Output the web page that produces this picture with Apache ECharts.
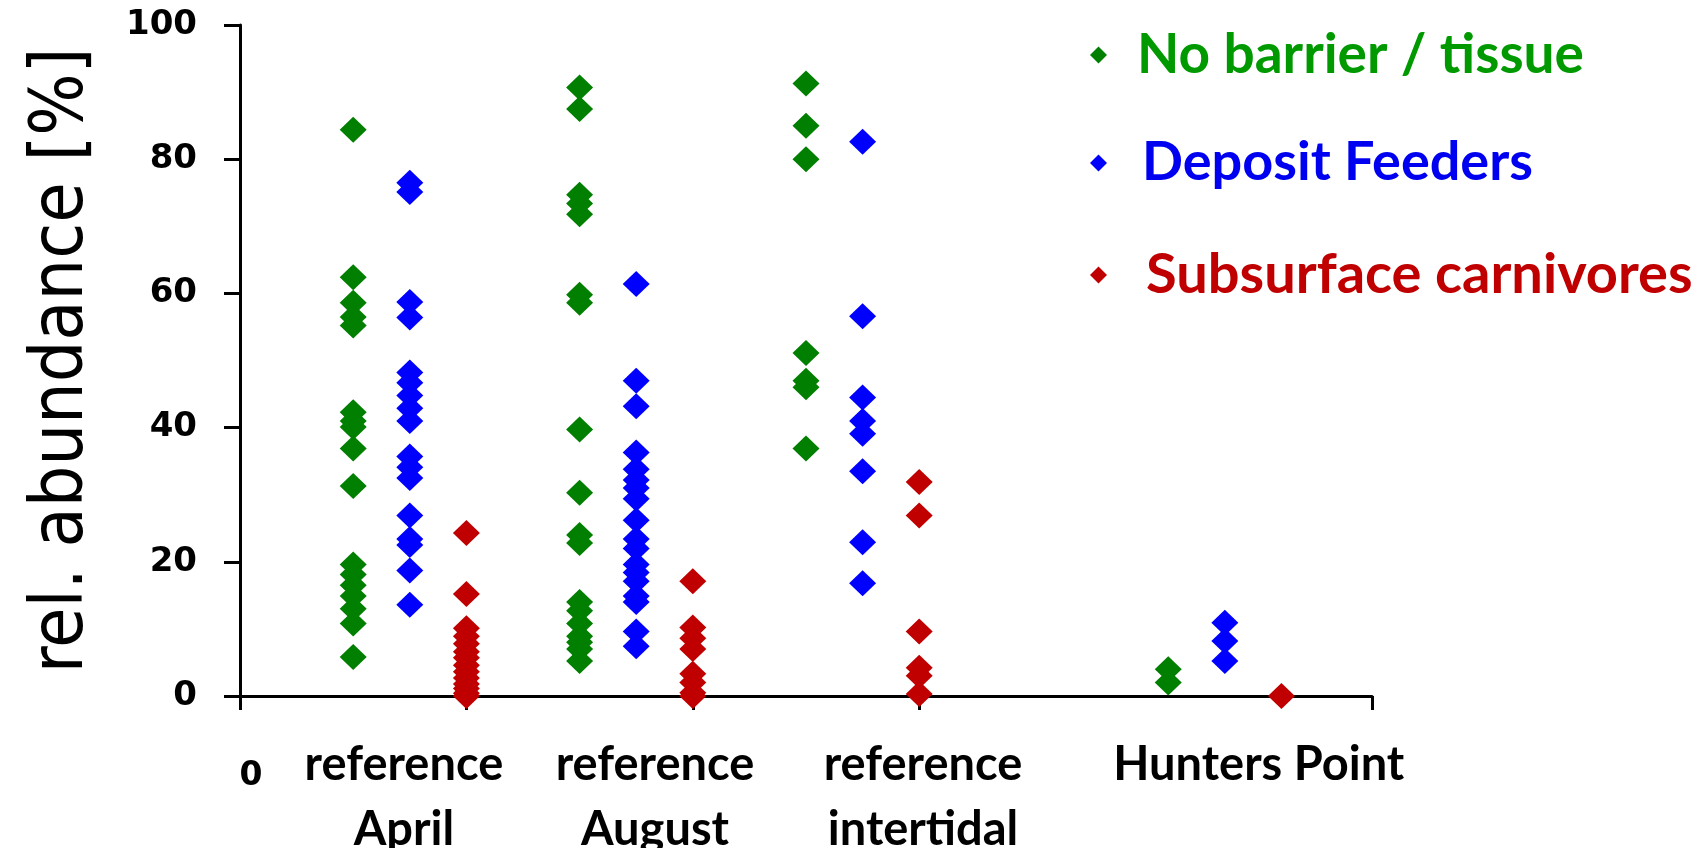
<!DOCTYPE html>
<html>
<head>
<meta charset="utf-8">
<script src="https://cdn.jsdelivr.net/npm/echarts@6/dist/echarts.min.js"></script>
<style>
  html, body { margin: 0; padding: 0; background: #fff; }
  #chart { width: 1698px; height: 848px; }
</style>
</head>
<body>
<div id="chart"></div>
<script>
// ---- data ----
const categories = ['reference\nApril', 'reference\nAugust', 'reference\nintertidal', 'Hunters Point'];
const categoryLabelPos = [0.724, 1.833, 3.017, 4.5];
const yTicks = [0, 20, 40, 60, 80, 100];

const seriesNames = ['No barrier / tissue', 'Deposit Feeders', 'Subsurface carnivores'];

// x position of each column (one per category) on the numeric x axis
const noBarrierX = [0.5, 1.5, 2.5, 4.1];
const depositX = [0.75, 1.75, 2.75, 4.35];
const carnivoreX = [1.0, 2.0, 3.0, 4.6];

// No barrier / tissue
const noBarrierApril = [84.4, 62.4, 58.6, 56.5, 55.2, 42.3, 41.0, 40.1, 36.9, 31.3, 19.6, 18.1, 16.5, 14.9, 13.0, 10.8, 5.8];
const noBarrierAugust = [90.7, 87.5, 74.7, 73.4, 71.8, 59.8, 58.6, 39.7, 30.3, 24.0, 22.8, 14.0, 12.7, 10.8, 8.9, 8.0, 7.0, 5.2];
const noBarrierIntertidal = [91.3, 85.0, 80.0, 51.1, 47.0, 46.0, 36.9];
const noBarrierHunters = [4.0, 2.0];

// Deposit Feeders
const depositApril = [76.5, 75.1, 58.7, 56.4, 48.2, 46.7, 44.8, 42.9, 41.0, 35.7, 34.1, 32.5, 26.9, 23.4, 22.5, 18.7, 13.6];
const depositAugust = [61.4, 47.0, 43.2, 36.3, 33.8, 32.2, 31.0, 29.4, 26.2, 23.4, 22.0, 19.6, 18.4, 17.1, 14.9, 14.0, 9.6, 7.4];
const depositIntertidal = [82.6, 56.6, 44.5, 41.0, 39.1, 33.5, 22.9, 16.8];
const depositHunters = [10.9, 8.2, 5.2];

// Subsurface carnivores
const carnivoreApril = [24.3, 15.2, 10.1, 8.9, 7.8, 6.6, 5.7, 4.6, 3.6, 2.7, 1.8, 1.1, 0.4, 0.0];
const carnivoreAugust = [17.1, 10.2, 8.6, 7.0, 3.3, 2.0, 0.5, 0.0];
const carnivoreIntertidal = [31.9, 26.9, 9.6, 4.2, 3.0, 0.3];
const carnivoreHunters = [0.0];

const markerColors = ['#007f00', '#0000ff', '#c00000'];
const legendTextColors = ['#009a00', '#0000f0', '#c00000'];

// ---- build ----
function build(xs, groups) {
  const out = [];
  groups.forEach((vals, i) => vals.forEach(v => out.push([xs[i], v])));
  return out;
}
const seriesData = [
  build(noBarrierX, [noBarrierApril, noBarrierAugust, noBarrierIntertidal, noBarrierHunters]),
  build(depositX, [depositApril, depositAugust, depositIntertidal, depositHunters]),
  build(carnivoreX, [carnivoreApril, carnivoreAugust, carnivoreIntertidal, carnivoreHunters])
];

const chart = echarts.init(document.getElementById('chart'), null, { renderer: 'canvas' });
const legendPad = [[0, 0, 0, 25], [0, 0, 0, 30], [8, 0, 0, 34]];
const legendSize = [55, 54, 56];

chart.setOption({
  animation: false,
  backgroundColor: '#ffffff',
  grid: { left: 240, right: 326, top: 25, bottom: 152, containLabel: false, outerBoundsMode: 'none' },
  legend: {
    orient: 'vertical',
    left: 1085,
    top: 21,
    itemGap: 50,
    itemWidth: 17,
    itemHeight: 17,
    icon: 'diamond',
    data: seriesNames.map((n, i) => ({
      name: n,
      textStyle: {
        color: legendTextColors[i],
        fontFamily: 'Lato',
        fontWeight: 'bold',
        fontSize: legendSize[i],
        lineHeight: 58,
        padding: legendPad[i]
      }
    }))
  },
  xAxis: [
    {
      type: 'value',
      min: 0,
      max: 5,
      interval: 1,
      position: 'bottom',
      axisLine: { show: true, lineStyle: { color: '#000', width: 3 } },
      axisTick: { show: true, length: 14, lineStyle: { color: '#000', width: 3 }, customValues: [0, 1, 2, 3, 5] },
      axisLabel: {
        customValues: [0],
        formatter: v => String(v),
        margin: 64,
        color: '#000',
        fontFamily: 'DejaVu Sans',
        fontWeight: 'bold',
        fontSize: 33,
        verticalAlign: 'top',
        padding: [0, 0, 0, 22]
      },
      splitLine: { show: false }
    },
    {
      type: 'value',
      min: 0,
      max: 5,
      position: 'bottom',
      axisLine: { show: false },
      axisTick: { show: false },
      axisLabel: {
        customValues: categoryLabelPos,
        formatter: v => {
          const i = categoryLabelPos.indexOf(v);
          return i >= 0 ? categories[i] : '';
        },
        margin: 36,
        color: '#000',
        fontFamily: 'Lato',
        fontWeight: 'bold',
        fontSize: 47,
        lineHeight: 65,
        verticalAlign: 'top'
      },
      splitLine: { show: false }
    }
  ],
  yAxis: {
    type: 'value',
    min: 0,
    max: 100,
    interval: 20,
    name: 'rel. abundance [%]',
    nameLocation: 'middle',
    nameRotate: 90,
    nameGap: 140,
    nameTextStyle: { color: '#000', fontFamily: 'DejaVu Sans Condensed', fontSize: 73, fontWeight: 'normal' },
    axisLine: { show: true, lineStyle: { color: '#000', width: 3 } },
    axisTick: { show: true, length: 16, lineStyle: { color: '#000', width: 3 } },
    axisLabel: {
      margin: 43,
      color: '#000',
      fontFamily: 'DejaVu Sans',
      fontWeight: 'bold',
      fontSize: 34,
      formatter: v => (yTicks.indexOf(v) >= 0 ? String(v) : '')
    },
    splitLine: { show: false }
  },
  series: seriesNames.map((n, i) => ({
    name: n,
    type: 'scatter',
    xAxisIndex: 0,
    symbol: 'diamond',
    symbolSize: [27, 26],
    itemStyle: { color: markerColors[i], opacity: 1 },
    data: seriesData[i],
    z: 3
  }))
});
</script>
</body>
</html>
